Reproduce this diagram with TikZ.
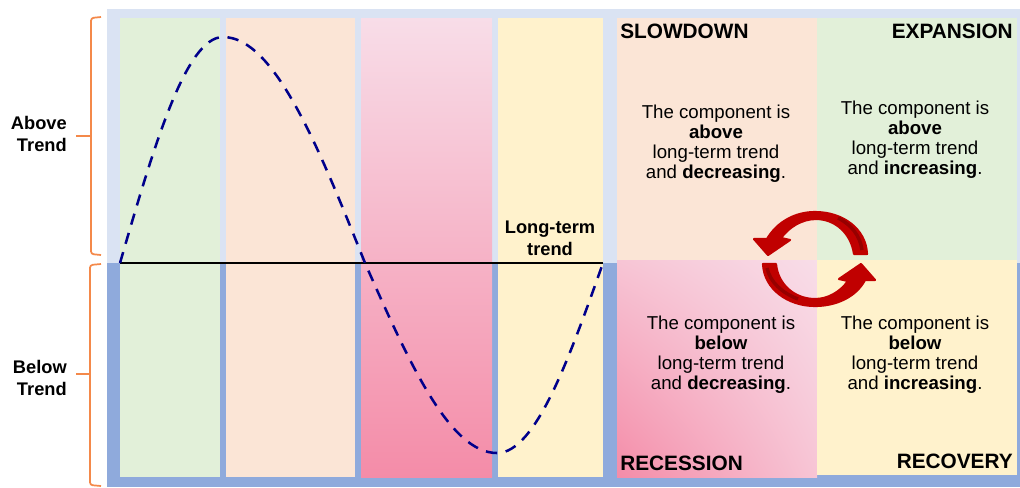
\documentclass[tikz,border=0pt]{standalone}
\usepackage{fontspec}
\setmainfont{Liberation Sans}
\usepackage{xcolor}
\usetikzlibrary{shadings}
\definecolor{skyLight}{HTML}{DAE3F3}
\definecolor{skyDark}{HTML}{8FAADC}
\definecolor{bandGreen}{HTML}{E2F0D9}
\definecolor{bandSalmon}{HTML}{FBE5D6}
\definecolor{bandYellow}{HTML}{FFF2CC}
\definecolor{pinkTop}{HTML}{F8DDE8}
\definecolor{pinkLow}{HTML}{F48CA8}
\definecolor{braceOrange}{HTML}{F4894A}
\definecolor{waveNavy}{HTML}{00008B}
\definecolor{cycleRed}{HTML}{C00000}
\definecolor{cycleDark}{HTML}{960000}

\begin{document}
\begin{tikzpicture}[
    x=0.75pt, y=-0.75pt,
    para/.style={align=center, inner sep=0pt, font=\fontsize{14}{15}\selectfont, text height=11pt, text depth=3pt},
    side/.style={align=right, inner sep=0pt, anchor=east, font=\bfseries\fontsize{13.7}{16.5}\selectfont},
    phase/.style={inner sep=0pt, font=\bfseries\fontsize{15.6}{18}\selectfont},
    bracket/.style={draw=braceOrange, line width=1.3pt, rounded corners=2pt},
    wave/.style={draw=waveNavy, line width=1.9pt, dash pattern=on 8.5pt off 6.5pt},
    cycle/.style={fill=cycleRed, draw=cycleRed, line width=1.6pt, line join=round},
    cyclein/.style={draw=cycleDark, line width=2.6pt},
]
\useasboundingbox (0,0) rectangle (1020,487);

% --- Backdrop ---
\fill[skyLight] (107,9) rectangle (1020,263);
\fill[skyDark] (107,263) rectangle (1020,487);

% --- Bands under the wave ---
\fill[bandGreen] (120,18) rectangle (220,477);
\fill[bandSalmon] (226,18) rectangle (355,477);
\shade[top color=pinkTop, bottom color=pinkLow] (361,18) rectangle (492,477);
\fill[bandYellow] (498,18) rectangle (603,477);

% --- Phase panels ---
\fill[bandSalmon] (617,18) rectangle (817,260);
\fill[bandGreen] (817,18) rectangle (1017,262);
\shade[lower left=pinkLow, lower right=pinkTop!70!pinkLow, upper left=pinkTop!70!pinkLow, upper right=pinkTop] (617,260) rectangle (817,477);
\fill[bandYellow] (817,260) rectangle (1017,475);

% --- Braces ---
\draw[bracket] (101,17) -- (91,18) -- (91,254) -- (101,255);
\draw[bracket] (76,136) -- (91,136);
\draw[bracket] (101,264) -- (90,265) -- (90,485) -- (101,486);
\draw[bracket] (76,374) -- (90,374);
\node[side] (above) at (67,134) {Above\\Trend};
\node[side] (below) at (67,378) {Below\\Trend};

% --- Trend and wave ---
\coordinate (start) at (120,263);
\coordinate (peak) at (223,37);
\coordinate (cross) at (365,263);
\coordinate (trough) at (497,453);
\coordinate (stop) at (603,263);
\draw[black, line width=1pt] (start) -- (stop);
\draw[wave] (start) sin (peak) cos (cross) sin (trough) cos (stop);
\node[side, anchor=center, align=center] (trendlabel) at (550,238.5) {Long-term\\trend};

% --- Phase names ---
\node[phase, anchor=west] (slowdown) at (620,31) {SLOWDOWN};
\node[phase, anchor=east] (expansion) at (1013,31) {EXPANSION};
\node[phase, anchor=west] (recession) at (620,463) {RECESSION};
\node[phase, anchor=east] (recovery) at (1013,461) {RECOVERY};

% --- Phase texts ---
\node[para] (t1a) at (716,113) {The component is};
\node[para] (t1b) at (716,133) {\textbf{above}};
\node[para] (t1c) at (716,153) {long-term trend};
\node[para] (t1d) at (716,173) {and \textbf{decreasing}.};
\node[para] (t2a) at (915,109) {The component is};
\node[para] (t2b) at (915,129) {\textbf{above}};
\node[para] (t2c) at (915,149) {long-term trend};
\node[para] (t2d) at (915,169) {and \textbf{increasing}.};
\node[para] (t3a) at (721,324) {The component is};
\node[para] (t3b) at (721,344) {\textbf{below}};
\node[para] (t3c) at (721,364) {long-term trend};
\node[para] (t3d) at (721,384) {and \textbf{decreasing}.};
\node[para] (t4a) at (915,324) {The component is};
\node[para] (t4b) at (915,344) {\textbf{below}};
\node[para] (t4c) at (915,364) {long-term trend};
\node[para] (t4d) at (915,384) {and \textbf{increasing}.};

% --- Cycle arrows ---
\fill[cycle] (867,254) .. controls (866,229) and (843,212) .. (815,212)
    .. controls (795,212) and (777,222) .. (767,239) -- (754,239) -- (768,255) -- (790,240) -- (781,238)
    .. controls (789,227) and (802,219) .. (816,219)
    .. controls (835,219) and (851,233) .. (854,254) -- cycle;
\draw[cyclein] (838,218) .. controls (852,225) and (860,236) .. (862,250);
\fill[cycle] (763,264) .. controls (764,289) and (788,306) .. (815,306)
    .. controls (836,306) and (856,297) .. (865,280) -- (875,280) -- (861,264) -- (839,279) -- (848,281)
    .. controls (840,292) and (828,299) .. (815,299)
    .. controls (795,299) and (778,285) .. (776,264) -- cycle;
\draw[cyclein] (767,268) .. controls (770,282) and (782,293) .. (798,299);

\end{tikzpicture}
\end{document}
